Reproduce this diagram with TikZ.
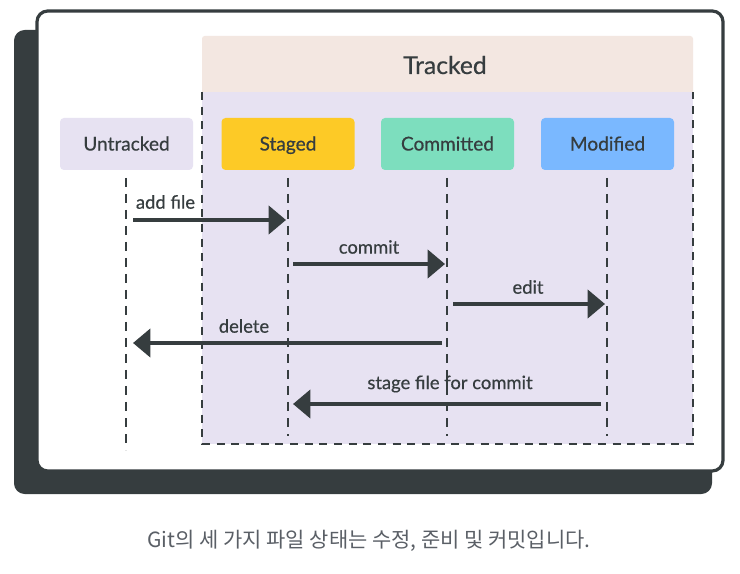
\documentclass[tikz,border=0pt]{standalone}
\usepackage{fontspec}
\setmainfont{Lato}
\newfontfamily\medfont{Lato}[FakeBold=0.5]
\newfontfamily\krfont{Noto Sans CJK KR}
\usetikzlibrary{arrows.meta}
\definecolor{ink}{HTML}{363D3F}
\definecolor{lav}{HTML}{E7E2F2}
\definecolor{peach}{HTML}{F3E7E1}
\definecolor{stagedc}{HTML}{FDCA26}
\definecolor{commitc}{HTML}{7DDEBE}
\definecolor{modc}{HTML}{7AB8FF}
\definecolor{capc}{HTML}{5A5F66}
\tikzset{
  statebox/.style={rounded corners=3pt, minimum width=99.75pt, minimum height=39pt, inner sep=0pt, text=ink, text height=9.8pt, text depth=0pt, font=\medfont\fontsize{14.3}{16}\selectfont},
  lifeline/.style={draw=ink, line width=2.1pt, dash pattern=on 7pt off 5pt},
  msg/.style={draw=ink, line width=3pt, -{Triangle[length=13pt,width=21pt]}},
  msglabel/.style={text=ink, font=\medfont\fontsize{13.8}{16}\selectfont, inner sep=0pt},
}
\begin{document}
\begin{tikzpicture}[x=0.75pt,y=-0.75pt]
\useasboundingbox (0,0) rectangle (740,574);
% shadow and card
\fill[ink, rounded corners=8pt] (14,30) rectangle (712,494);
\draw[ink, fill=white, line width=2.4pt, rounded corners=8pt] (37,11) rectangle (723,471);
% tracked area
\fill[peach, rounded corners=2pt] (202,36) rectangle (693,96);
\fill[lav] (202,92) rectangle (693,444);
\draw[ink, line width=2pt, dash pattern=on 6pt off 5pt] (202,92) -- (202,444) -- (693,444) -- (693,92);
\node[text=ink, font=\medfont\fontsize{18.5}{20}\selectfont] (trk) at (445,65) {Tracked};
% state boxes
\node[statebox, fill=lav] (untr) at (126.5,144) {Untracked};
\node[statebox, fill=stagedc] (stag) at (288,144) {Staged};
\node[statebox, fill=commitc] (comm) at (447.5,144) {Committed};
\node[statebox, fill=modc] (modi) at (607.5,144) {Modified};
% lifelines
\coordinate (lu) at (126,450);
\coordinate (ls) at (288,436);
\coordinate (lc) at (447,436);
\coordinate (lm) at (607,436);
\draw[lifeline] (126,178) -- (lu);
\draw[lifeline] (288,178) -- (ls);
\draw[lifeline] (447,178) -- (lc);
\draw[lifeline] (607,178) -- (lm);
% message endpoints
\coordinate (a1) at (133,220); \coordinate (a2) at (286,220);
\coordinate (b1) at (293,264); \coordinate (b2) at (445,264);
\coordinate (c1) at (453,304); \coordinate (c2) at (605,304);
\coordinate (d1) at (442,343); \coordinate (d2) at (133,343);
\coordinate (e1) at (601,404); \coordinate (e2) at (293,404);
\draw[msg] (a1) -- (a2);
\draw[msg] (b1) -- (b2);
\draw[msg] (c1) -- (c2);
\draw[msg] (d1) -- (d2);
\draw[msg] (e1) -- (e2);
\node[msglabel] (la) at (165.5,202) {add file};
\node[msglabel] (lb) at (369,247) {commit};
\node[msglabel] (lcc) at (528,287) {edit};
\node[msglabel] (ld) at (244,326) {delete};
\node[msglabel] (le) at (450,384) {stage file for commit};
% caption
\node[text=capc, font=\krfont\fontsize{15.7}{18}\selectfont] (cap) at (369,541) {Git의 세 가지 파일 상태는 수정, 준비 및 커밋입니다.};
\end{tikzpicture}
\end{document}
